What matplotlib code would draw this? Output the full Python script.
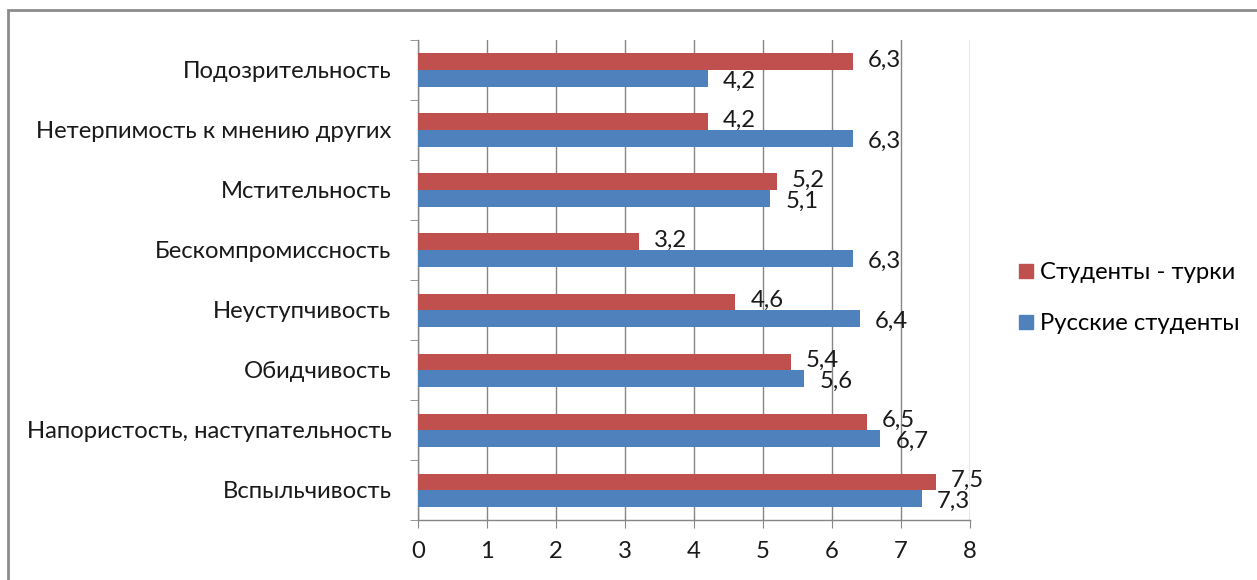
import matplotlib
matplotlib.use("Agg")
import matplotlib.pyplot as plt
from matplotlib.patches import Rectangle
from matplotlib.lines import Line2D
import numpy as np

categories = ["Вспыльчивость", "Напористость, наступательность", "Обидчивость",
              "Неуступчивость", "Бескомпромиссность", "Мстительность",
              "Нетерпимость к мнению других", "Подозрительность"]
turks = [7.5, 6.5, 5.4, 4.6, 3.2, 5.2, 4.2, 6.3]
russians = [7.3, 6.7, 5.6, 6.4, 6.3, 5.1, 6.3, 4.2]
series_names = ["Студенты - турки", "Русские студенты"]
xticks = [0, 1, 2, 3, 4, 5, 6, 7, 8]

RED = "#C0504D"
BLUE = "#4F81BD"
GRID = "#868686"
FONT = "Lato"
FS = 17.2
TXT = "#1a1a1a"

fig = plt.figure(figsize=(12.57, 5.8), dpi=100)
ax = fig.add_axes([418/1257, 1-520/580, (970-418)/1257, (520-40)/580])

y = np.arange(len(categories))
h = 0.275
ax.barh(y + h/2, turks, height=h, color=RED, zorder=3)
ax.barh(y - h/2, russians, height=h, color=BLUE, zorder=3)

def fmt(v):
    return f"{v:.1f}".replace(".", ",")

for yi, v in zip(y, turks):
    ax.annotate(fmt(v), (v, yi + h/2), xytext=(11, 1), textcoords="offset points",
                ha="left", va="center", fontsize=FS, family=FONT, color=TXT, zorder=4)
for yi, v in zip(y, russians):
    ax.annotate(fmt(v), (v, yi - h/2), xytext=(11, -2), textcoords="offset points",
                ha="left", va="center", fontsize=FS, family=FONT, color=TXT, zorder=4)

ax.set_xlim(0, 8)
ax.set_ylim(-0.5, len(categories) - 0.5)
ax.set_xticks(xticks)
ax.set_xticklabels([str(t) for t in xticks], fontsize=FS, family=FONT, color=TXT)
ax.set_yticks(y)
ax.set_yticklabels(categories, fontsize=FS, family=FONT, color=TXT)
ax.set_yticks(np.arange(-0.5, len(categories)), minor=True)
ax.tick_params(axis="y", which="major", length=0, pad=19)
ax.tick_params(axis="y", which="minor", length=6, color=GRID, direction="out")
ax.tick_params(axis="x", length=6, color=GRID, direction="out", pad=9)

ax.grid(axis="x", color=GRID, linewidth=1, zorder=0)
ax.set_axisbelow(True)
for s in ["top", "right"]:
    ax.spines[s].set_visible(False)
for s in ["left", "bottom"]:
    ax.spines[s].set_color(GRID)
    ax.spines[s].set_linewidth(1)

handles = [Line2D([], [], marker="s", linestyle="none", markersize=10, color=RED),
           Line2D([], [], marker="s", linestyle="none", markersize=10, color=BLUE)]
fig.legend(handles, series_names, loc="center left", bbox_to_anchor=(999/1257, 1-298/580),
           frameon=False, prop={"family": FONT, "size": FS}, handlelength=0.5,
           handletextpad=0.3, labelspacing=1.25)

border = Rectangle((8/1257, -0.1), 1.2, 1-10/580 + 0.1, transform=fig.transFigure,
                   fill=False, edgecolor="#8C8C8C", linewidth=2, clip_on=False)
fig.patches.append(border)

fig.savefig("out.png", dpi=100, facecolor="white")
